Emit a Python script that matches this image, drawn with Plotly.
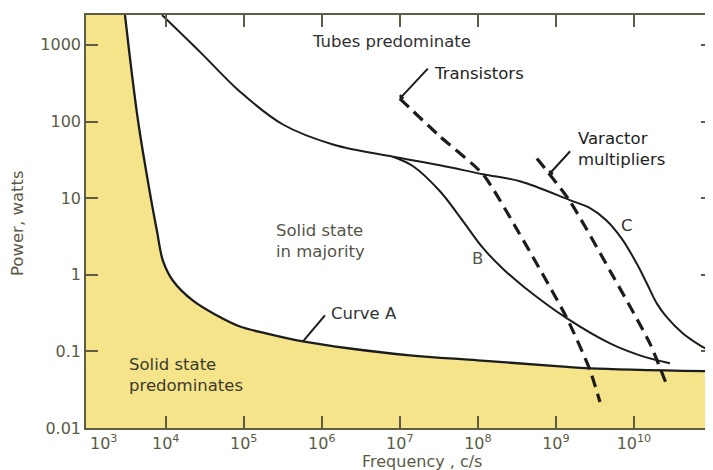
import numpy as np
import plotly.graph_objects as go

# ---------------- data ----------------
# Curve A : lower boundary (solid state predominates below it)
a_freq = [3.01e3, 4.42e3, 6.49e3, 7.73e3, 9.23e3, 1.24e4, 2.24e4, 4.55e4, 8.95e4,
          1.99e5, 5.74e5, 2.30e6, 1.35e7, 1.0e8, 1.12e9, 2.74e9, 1.03e11]
a_power = [2455, 103, 9.7, 3.72, 1.52, 0.836, 0.459, 0.294, 0.211,
           0.171, 0.135, 0.109, 0.0887, 0.0764, 0.0638, 0.0601, 0.055]

# Upper boundary (tubes predominate above it), ending as curve C
c_freq = [8.97e3, 2.75e4, 8.95e4, 3.18e5, 1.39e6, 8.17e6, 3.27e7, 1.16e8,
          3.46e8, 1.51e9, 2.74e9, 4.38e9, 7.01e9, 1.09e10, 1.47e10, 1.97e10,
          2.65e10, 4.25e10, 7.01e10, 1.03e11]
c_power = [2455, 811, 245, 91.4, 50.2, 34.7, 26.9, 20.5,
           16.6, 9.42, 7.41, 5.18, 2.94, 1.39, 0.764, 0.420,
           0.277, 0.171, 0.120, 0.097]

# Curve B (branches off the upper boundary)
b_freq = [8.17e6, 1.48e7, 3.27e7, 6.44e7, 1.16e8, 2.09e8, 4.01e8, 1.39e9,
          4.93e9, 1.19e10, 2.89e10]
b_power = [34.7, 26.1, 12.3, 5.02, 2.24, 1.20, 0.678, 0.269,
           0.127, 0.0887, 0.0698]

# Transistors (dashed)
t_freq = [1.0e7, 3.27e7, 1.16e8, 3.37e8, 1.39e9, 2.74e9, 3.67e9]
t_power = [199, 63.8, 20.5, 3.51, 0.269, 0.0566, 0.0218]

# Varactor multipliers (dashed)
v_freq = [5.71e8, 1.51e9, 4.93e9, 1.60e10, 2.73e10]
v_power = [33.0, 9.14, 1.13, 0.127, 0.033]

x_tick_vals = [1e4, 1e5, 1e6, 1e7, 1e8, 1e9, 1e10]
x_tick_text = ["10<sup>4</sup>", "10<sup>5</sup>", "10<sup>6</sup>", "10<sup>7</sup>",
               "10<sup>8</sup>", "10<sup>9</sup>", "10<sup>10</sup>"]
y_tick_vals = [0.01, 0.1, 1, 10, 100, 1000]
y_tick_text = ["0.01", "0.1", "1", "10", "100", "1000"]

# ---------------- styling ----------------
YELLOW = "#F6E48A"
LINE = "#1c1c1c"
AXIS = "#5e5c44"
FONT = "DejaVu Sans, Verdana, sans-serif"
XTICKFONT = dict(family=FONT, size=16, color="#5b5a45")
YTICKFONT = dict(family=FONT, size=16, color="#5b5a45")

X_RANGE = [2.979, 11.013]
Y_RANGE = [-2.0, 3.39]
Y_TOP = 10 ** 3.6
SM = 1.0

fig = go.Figure()

# white region above curve A (plot background is yellow)
fig.add_trace(go.Scatter(x=a_freq, y=[Y_TOP] * len(a_freq), mode="lines",
                         line=dict(width=0, color="white"), hoverinfo="skip",
                         showlegend=False))
fig.add_trace(go.Scatter(x=a_freq, y=a_power, mode="lines",
                         line=dict(color=LINE, width=2.3, shape="spline", smoothing=SM),
                         fill="tonexty", fillcolor="white", showlegend=False))

fig.add_trace(go.Scatter(x=c_freq, y=c_power, mode="lines",
                         line=dict(color=LINE, width=2.0, shape="spline", smoothing=SM),
                         showlegend=False))
fig.add_trace(go.Scatter(x=b_freq, y=b_power, mode="lines",
                         line=dict(color=LINE, width=2.0, shape="spline", smoothing=SM),
                         showlegend=False))
fig.add_trace(go.Scatter(x=t_freq, y=t_power, mode="lines",
                         line=dict(color=LINE, width=3.2, dash="12px,7px",
                                   shape="spline", smoothing=0.6),
                         showlegend=False))
fig.add_trace(go.Scatter(x=v_freq, y=v_power, mode="lines",
                         line=dict(color=LINE, width=3.2, dash="12px,7px",
                                   shape="spline", smoothing=0.6),
                         showlegend=False))

# leader heads located on the curves
def on_curve(freqs, powers, p):
    lf = np.log10(freqs)[::-1]
    lp = np.log10(powers)[::-1]
    return 10 ** np.interp(np.log10(p), lp, lf), p

tx, ty = t_freq[0], t_power[0]
vx, vy = on_curve(v_freq, v_power, 20.5)
ax_, ay_ = a_freq[10], a_power[10]

shapes = []
def seg(x, y, x0, y0, x1, y1, w=2.0):
    # pixel offsets (screen x right, screen y down) around a data anchor
    shapes.append(dict(type="line", xref="x", yref="y",
                       xsizemode="pixel", ysizemode="pixel",
                       xanchor=x, yanchor=y,
                       x0=x0, x1=x1, y0=-y0, y1=-y1,
                       line=dict(color=LINE, width=w)))

def leader(x, y, dx, dy, bar=True):
    seg(x, y, 0, 0, dx, dy)
    if bar:
        n = np.hypot(dx, dy)
        px, py = -dy / n * 5, dx / n * 5
        seg(x, y, -px, -py, px, py, 2.5)

leader(tx, ty, 28, -30)
leader(vx, vy, 21, -23)
leader(ax_, ay_, 22, -26, bar=False)

ann = []
def label(text, px, py, anchor="left", color="#2b2b2b", size=16.5):
    ann.append(dict(x=(px - 86) / 627, y=(428 - py) / 415, xref="paper", yref="paper",
                    text=text, showarrow=False, xanchor=anchor, yanchor="middle",
                    align="left", font=dict(family=FONT, size=size, color=color)))

label("Tubes predominate", 391, 40, anchor="center", color="#303030")
label("Transistors", 432, 72, color="#222222")
label("Varactor<br>multipliers", 576, 148, color="#222222")
label("C", 627, 225, anchor="center", color="#333333")
label("B", 477, 258, anchor="center", color="#555548")
label("Curve A", 329, 313, color="#333333")
label("Solid state<br>in majority", 274, 240, color="#555548")
label("Solid state<br>predominates", 127, 375, color="#3a3a2a")

# 10^3 label, set off to the right of the corner as in the reference
ann.append(dict(x=3.197, y=0, xref="x", yref="paper", yanchor="top",
                yshift=-2, text="10<sup>3</sup>", showarrow=False, font=XTICKFONT))

# axis titles
ann.append(dict(x=(18 - 86) / 627, y=(428 - 222) / 415, xref="paper", yref="paper",
                xanchor="center", yanchor="middle",
                text="Power, watts", textangle=-90, showarrow=False,
                font=dict(family=FONT, size=16.5, color="#5b5a45")))
ann.append(dict(x=(422 - 86) / 627, y=(428 - 462) / 415, xref="paper", yref="paper",
                xanchor="center", yanchor="middle",
                text="Frequency , c/s", showarrow=False,
                font=dict(family=FONT, size=16, color="#5b5a45")))

# the page body adds an 8 px offset; margins compensate so the plot sits at 86..713 x 13..428
fig.update_layout(
    width=713, height=470,
    margin=dict(l=78, r=8, t=5, b=50),
    paper_bgcolor="white", plot_bgcolor=YELLOW,
    showlegend=False,
    annotations=ann,
    shapes=shapes,
    xaxis=dict(type="log", range=X_RANGE, tickvals=x_tick_vals, ticktext=x_tick_text,
               ticks="inside", ticklen=12, tickwidth=1.5, tickcolor=AXIS,
               showline=True, linecolor=AXIS, linewidth=1.5, mirror="ticks",
               showgrid=False, zeroline=False, tickfont=XTICKFONT),
    yaxis=dict(type="log", range=Y_RANGE, tickvals=y_tick_vals, ticktext=y_tick_text,
               ticks="inside", ticklen=12, tickwidth=1.5, tickcolor=AXIS,
               showline=True, linecolor=AXIS, linewidth=1.5, mirror="ticks",
               showgrid=False, zeroline=False, tickfont=YTICKFONT),
)

fig.write_html("out.html")
